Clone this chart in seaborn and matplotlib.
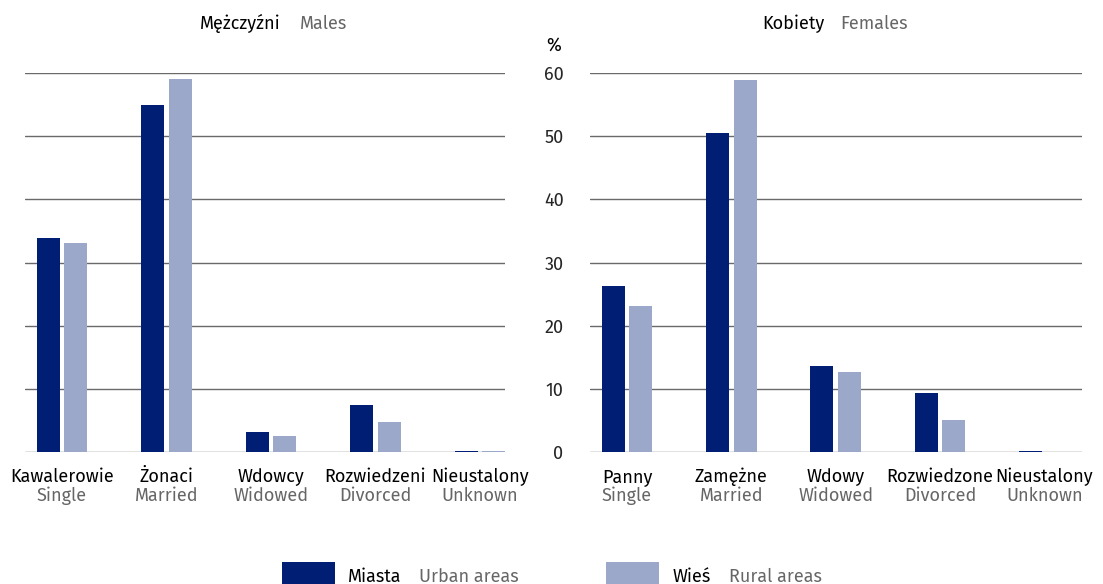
import matplotlib
matplotlib.use("Agg")
import matplotlib.pyplot as plt
import seaborn as sns
import pandas as pd
from matplotlib.patches import Rectangle

# ---- data ----
areas = ["Miasta", "Wieś"]
areas_en = ["Urban areas", "Rural areas"]

men_pl = ["Kawalerowie", "Żonaci", "Wdowcy", "Rozwiedzeni", "Nieustalony"]
men_en = ["Single", "Married", "Widowed", "Divorced", "Unknown"]
men_urban = [33.9, 54.9, 3.2, 7.4, 0.2]
men_rural = [33.1, 59.0, 2.5, 4.7, 0.15]

women_pl = ["Panny", "Zamężne", "Wdowy", "Rozwiedzone", "Nieustalony"]
women_en = ["Single", "Married", "Widowed", "Divorced", "Unknown"]
women_urban = [26.3, 50.5, 13.6, 9.3, 0.2]
women_rural = [23.1, 58.9, 12.7, 5.1, 0.05]

yticks = [0, 10, 20, 30, 40, 50, 60]

# ---- style ----
sns.set_style("white")
plt.rcParams["font.family"] = ["Fira Sans", "Lato", "DejaVu Sans"]
colors = ["#001E73", "#9CA8CA"]
gray = "#666666"
FS = 13

fig = plt.figure(figsize=(11.03, 5.84), dpi=100)
W, H = 1103, 584
axL = fig.add_axes([25 / W, 1 - 452 / H, 480 / W, 379 / H])
axR = fig.add_axes([590 / W, 1 - 452 / H, 492 / W, 379 / H])


def make_df(cats, urban, rural):
    rows = []
    for c, u, r in zip(cats, urban, rural):
        rows.append({"cat": c, "area": areas[0], "val": u})
        rows.append({"cat": c, "area": areas[1], "val": r})
    return pd.DataFrame(rows)


panels = [
    (axL, men_pl, men_en, men_urban, men_rural, (-0.354, 4.24)),
    (axR, women_pl, women_en, women_urban, women_rural, (-0.355, 4.36)),
]

for ax, cpl, cen, u, r, xl in panels:
    df = make_df(cpl, u, r)
    sns.barplot(data=df, x="cat", y="val", hue="area", order=cpl, hue_order=areas,
                palette=colors, width=0.53, gap=0.17, ax=ax, legend=False,
                saturation=1, linewidth=0, errorbar=None)
    ax.set_ylim(0, 60)
    ax.set_xlim(*xl)
    ax.set_yticks(yticks)
    ax.yaxis.grid(True, color="#6a6a6a", linewidth=1)
    ax.xaxis.grid(False)
    ax.set_axisbelow(True)
    for s in ax.spines.values():
        s.set_visible(False)
    ax.set_xlabel("")
    ax.set_ylabel("")
    ax.set_xticks(range(len(cpl)))
    ax.set_xticklabels([])
    ax.tick_params(axis="both", length=0)
    tr = ax.get_xaxis_transform()
    for i, (p, e) in enumerate(zip(cpl, cen)):
        ax.text(i, (452 - 482) / 379, p, transform=tr, ha="center", va="baseline",
                fontsize=FS, color="black")
        ax.text(i, (452 - 501) / 379, e, transform=tr, ha="center", va="baseline",
                fontsize=FS, color=gray)

axL.set_yticklabels([])
axR.set_yticklabels([str(v) for v in yticks], fontsize=FS)
axR.tick_params(axis="y", pad=19)
for lbl in axR.get_yticklabels():
    lbl.set_horizontalalignment("right")

# titles
ty = 1 - 29 / H
fig.text(200 / W, ty, "Mężczyźni", fontsize=FS, color="black", va="baseline", ha="left")
fig.text(300 / W, ty, "Males", fontsize=FS, color=gray, va="baseline", ha="left")
fig.text(762 / W, ty, "Kobiety", fontsize=FS, color="black", va="baseline", ha="left")
fig.text(840 / W, ty, "Females", fontsize=FS, color=gray, va="baseline", ha="left")
fig.text(546 / W, 1 - 51 / H, "%", fontsize=FS, color="black", va="baseline", ha="left")

# legend
leg = [(282, 348, 419, 0), (606, 673, 729, 1)]
for px, tx1, tx2, k in leg:
    fig.patches.append(Rectangle((px / W, 0), 53 / W, 22 / H, transform=fig.transFigure,
                                 facecolor=colors[k], edgecolor="none"))
    fig.text(tx1 / W, 1 - 582 / H, areas[k], fontsize=FS, color="black", va="baseline", ha="left")
    fig.text(tx2 / W, 1 - 582 / H, areas_en[k], fontsize=FS, color=gray, va="baseline", ha="left")

fig.savefig("out.png", dpi=100)
